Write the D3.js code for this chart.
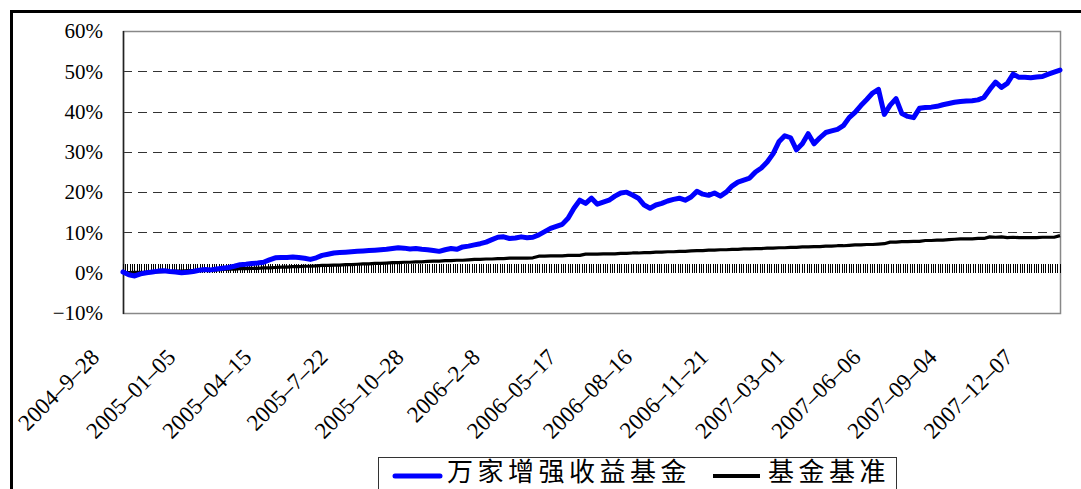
<!DOCTYPE html>
<html><head><meta charset="utf-8">
<script src="https://cdn.jsdelivr.net/npm/d3@7"></script>
<style>
html,body{margin:0;padding:0;background:#fff;overflow:hidden;}
svg{display:block;}
.serif{font-family:"Liberation Serif","DejaVu Serif",serif;}
.cjk{font-family:"Noto Sans CJK SC","Noto Sans CJK TC",sans-serif;}
</style></head>
<body>
<svg id="c" width="1081" height="489"></svg>
<script>
// ---- data ----
const categoryCount = 800;          // trading days on the category axis
const sampleStep = 5;               // values below are read every 5 trading days
const tickLabels = ["2004-9-28","2005-01-05","2005-04-15","2005-7-22","2005-10-28","2006-2-8","2006-05-17","2006-08-16","2006-11-21","2007-03-01","2007-06-06","2007-09-04","2007-12-07"];
const labelEvery = 65;
const yTicks = [-10,0,10,20,30,40,50,60];
const seriesNames = ["万家增强收益基金","基金基准"];
const fund = [
0.2,-0.5,-0.8,-0.3,0.0,0.2,0.4,0.5,0.3,0.2,
0.0,0.1,0.3,0.6,0.8,0.7,0.9,1.1,1.3,1.6,
2.0,2.1,2.3,2.4,2.6,3.2,3.7,3.8,3.8,3.9,
3.8,3.6,3.3,3.7,4.3,4.6,4.9,5.0,5.1,5.2,
5.3,5.4,5.5,5.6,5.7,5.8,6.0,6.2,6.1,5.9,
6.0,5.8,5.7,5.5,5.3,5.7,6.0,5.8,6.4,6.6,
6.9,7.2,7.6,8.2,8.8,8.9,8.5,8.6,8.9,8.7,
8.8,9.4,10.2,11.0,11.5,12.0,13.5,16.0,18.0,17.2,
18.5,17.0,17.5,18.0,19.0,19.8,20.0,19.3,18.5,16.8,
16.0,16.8,17.2,17.8,18.2,18.5,18.0,18.8,20.2,19.5,
19.2,19.8,19.0,20.0,21.5,22.5,23.0,23.5,25.0,26.0,
27.5,29.5,32.5,34.0,33.5,30.5,32.0,34.5,32.0,33.5,
34.8,35.2,35.6,36.5,38.5,39.8,41.5,43.0,44.6,45.5,
39.3,41.6,43.2,39.5,38.8,38.5,40.8,41.0,41.1,41.3,
41.7,42.0,42.3,42.5,42.6,42.7,42.9,43.5,45.5,47.3,
46.0,47.0,49.3,48.5,48.5,48.4,48.6,48.7,49.3,49.8,
50.3];
const bench = [
0.0,0.0,0.1,0.1,0.1,0.2,0.2,0.3,0.3,0.4,
0.4,0.5,0.5,0.6,0.6,0.7,0.7,0.8,0.9,0.9,
1.0,1.0,1.1,1.1,1.2,1.2,1.3,1.4,1.4,1.5,
1.5,1.6,1.6,1.7,1.8,1.8,1.9,1.9,2.0,2.0,
2.1,2.2,2.2,2.3,2.3,2.4,2.5,2.5,2.6,2.6,
2.7,2.7,2.8,2.9,2.9,3.0,3.0,3.1,3.1,3.2,
3.3,3.3,3.4,3.4,3.5,3.5,3.6,3.6,3.6,3.6,
3.7,4.1,4.1,4.2,4.2,4.2,4.3,4.3,4.3,4.6,
4.6,4.6,4.7,4.7,4.7,4.8,4.8,4.9,4.9,5.0,
5.0,5.1,5.1,5.2,5.2,5.3,5.3,5.4,5.5,5.5,
5.6,5.6,5.7,5.7,5.8,5.8,5.9,5.9,6.0,6.0,
6.1,6.1,6.2,6.2,6.3,6.3,6.4,6.4,6.5,6.5,
6.6,6.6,6.7,6.7,6.8,6.9,6.9,7.0,7.0,7.1,
7.2,7.6,7.6,7.7,7.7,7.8,7.8,8.0,8.0,8.1,
8.1,8.2,8.3,8.4,8.4,8.4,8.5,8.5,8.9,8.8,
8.9,8.7,8.8,8.7,8.7,8.7,8.7,8.8,8.8,8.8,
9.2];

// ---- layout ----
const svg = d3.select("#c");
const L = 123, R = 1060, T = 31, B = 313;
const x = d3.scaleLinear().domain([0, categoryCount]).range([L, R]);
const y = d3.scaleLinear().domain([-10, 60]).range([B, T]);

// outer frame
svg.append("path").attr("d","M11.5,489 V11.5 H1081").attr("fill","none").attr("stroke","#000").attr("stroke-width",3);

// gridlines
svg.append("g").selectAll("line").data(yTicks.filter(v=>v>-10 && v<60 && v!==0)).join("line")
  .attr("x1",L).attr("x2",R).attr("y1",d=>Math.round(y(d))+0.5).attr("y2",d=>Math.round(y(d))+0.5)
  .attr("stroke","#333").attr("stroke-width",1).attr("stroke-dasharray","9,6");

// plot border
svg.append("rect").attr("x",L+0.5).attr("y",T+0.5).attr("width",R-L).attr("height",B-T)
  .attr("fill","none").attr("stroke","#888").attr("stroke-width",1.5);
svg.append("line").attr("x1",L+0.5).attr("x2",L+0.5).attr("y1",T).attr("y2",B+1).attr("stroke","#222").attr("stroke-width",1.5);

// dense category ticks on the 0% axis
const tickIdx = d3.range(0, categoryCount+1, 2);
svg.append("g").attr("shape-rendering","crispEdges").selectAll("line").data(tickIdx).join("line")
  .attr("x1",d=>x(d)).attr("x2",d=>x(d)).attr("y1",y(0)).attr("y2",y(0)-9)
  .attr("stroke","#000").attr("stroke-width",1);

// y labels
svg.append("g").selectAll("text").data(yTicks).join("text")
  .attr("class","serif")
  .attr("x",103).attr("y",d=>y(d)).attr("dy","0.35em").attr("text-anchor","end")
  .attr("font-size",21)
  .text(d=> (d<0?"\u2212"+Math.abs(d):d)+"%");

// x labels
svg.append("g").selectAll("text").data(tickLabels).join("text")
  .attr("class","serif")
  .attr("transform",(d,i)=>`translate(${x(i*labelEvery)-28},${353}) rotate(-45)`)
  .attr("text-anchor","end").attr("dy","0.35em")
  .attr("font-size",23)
  .text(d=>d.replace(/-/g,"\u2013"));

// lines
const line = d3.line().x((d,i)=>x(i*sampleStep)).y(d=>y(d));
svg.append("path").datum(bench).attr("d",line).attr("fill","none").attr("stroke","#000").attr("stroke-width",3.2).attr("stroke-linejoin","round");
svg.append("path").datum(fund).attr("d",line).attr("fill","none").attr("stroke","#0000ff").attr("stroke-width",5).attr("stroke-linejoin","round").attr("stroke-linecap","round");

// legend
const lg = svg.append("g");
lg.append("rect").attr("x",378.5).attr("y",457.5).attr("width",518).attr("height",60).attr("fill","#fff").attr("stroke","#333").attr("stroke-width",1);
lg.append("line").attr("x1",395).attr("x2",440).attr("y1",476).attr("y2",476).attr("stroke","#0000ff").attr("stroke-width",5).attr("stroke-linecap","round");
lg.append("text").attr("class","cjk").attr("x",447).attr("y",481).attr("font-size",26).attr("letter-spacing",4.5).text(seriesNames[0]);
lg.append("line").attr("x1",713).attr("x2",760).attr("y1",476).attr("y2",476).attr("stroke","#000").attr("stroke-width",4);
lg.append("text").attr("class","cjk").attr("x",768).attr("y",481).attr("font-size",26).attr("letter-spacing",4.5).text(seriesNames[1]);
</script>
</body></html>
